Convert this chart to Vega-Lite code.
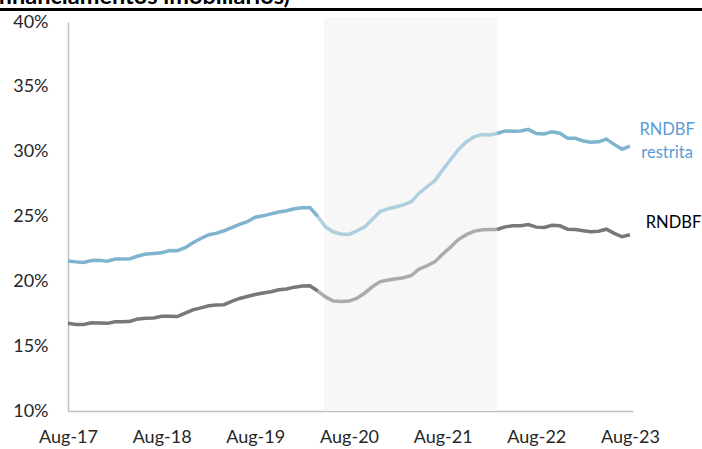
{
  "$schema": "https://vega.github.io/schema/vega-lite/v6.json",
  "width": 565,
  "height": 389,
  "autosize": {"type": "none"},
  "padding": {"left": 68, "top": 22, "right": 69, "bottom": 38},
  "background": "#ffffff",
  "title": {
    "text": "financiamentos imobiliários)",
    "anchor": "start",
    "frame": "group",
    "dx": -70,
    "dy": 5,
    "offset": 4,
    "font": "Lato",
    "fontSize": 23.5,
    "fontWeight": "bold",
    "color": "#000000"
  },
  "datasets": {
    "periodo": [{"periodo": "pandemia"}],
    "rotulo_restrita": [{"rotulo": "RNDBF restrita"}],
    "rotulo_total": [{"rotulo": "RNDBF"}]
  },
  "data": {
    "format": {"parse": {"mes": "date:'%Y-%m'"}},
    "values": [
      {"mes": "2017-08", "RNDBF restrita": 0.2157, "RNDBF": 0.1676},
      {"mes": "2017-09", "RNDBF restrita": 0.2150, "RNDBF": 0.1668},
      {"mes": "2017-10", "RNDBF restrita": 0.2145, "RNDBF": 0.1668},
      {"mes": "2017-11", "RNDBF restrita": 0.2160, "RNDBF": 0.1680},
      {"mes": "2017-12", "RNDBF restrita": 0.2162, "RNDBF": 0.1678},
      {"mes": "2018-01", "RNDBF restrita": 0.2155, "RNDBF": 0.1676},
      {"mes": "2018-02", "RNDBF restrita": 0.2172, "RNDBF": 0.1688},
      {"mes": "2018-03", "RNDBF restrita": 0.2172, "RNDBF": 0.1689},
      {"mes": "2018-04", "RNDBF restrita": 0.2175, "RNDBF": 0.1692},
      {"mes": "2018-05", "RNDBF restrita": 0.2195, "RNDBF": 0.1710},
      {"mes": "2018-06", "RNDBF restrita": 0.2210, "RNDBF": 0.1715},
      {"mes": "2018-07", "RNDBF restrita": 0.2215, "RNDBF": 0.1718},
      {"mes": "2018-08", "RNDBF restrita": 0.2220, "RNDBF": 0.1730},
      {"mes": "2018-09", "RNDBF restrita": 0.2238, "RNDBF": 0.1730},
      {"mes": "2018-10", "RNDBF restrita": 0.2236, "RNDBF": 0.1728},
      {"mes": "2018-11", "RNDBF restrita": 0.2260, "RNDBF": 0.1755},
      {"mes": "2018-12", "RNDBF restrita": 0.2298, "RNDBF": 0.1780},
      {"mes": "2019-01", "RNDBF restrita": 0.2330, "RNDBF": 0.1795},
      {"mes": "2019-02", "RNDBF restrita": 0.2360, "RNDBF": 0.1812},
      {"mes": "2019-03", "RNDBF restrita": 0.2370, "RNDBF": 0.1817},
      {"mes": "2019-04", "RNDBF restrita": 0.2390, "RNDBF": 0.1820},
      {"mes": "2019-05", "RNDBF restrita": 0.2415, "RNDBF": 0.1845},
      {"mes": "2019-06", "RNDBF restrita": 0.2440, "RNDBF": 0.1868},
      {"mes": "2019-07", "RNDBF restrita": 0.2460, "RNDBF": 0.1883},
      {"mes": "2019-08", "RNDBF restrita": 0.2495, "RNDBF": 0.1898},
      {"mes": "2019-09", "RNDBF restrita": 0.2505, "RNDBF": 0.1910},
      {"mes": "2019-10", "RNDBF restrita": 0.2520, "RNDBF": 0.1920},
      {"mes": "2019-11", "RNDBF restrita": 0.2535, "RNDBF": 0.1935},
      {"mes": "2019-12", "RNDBF restrita": 0.2545, "RNDBF": 0.1941},
      {"mes": "2020-01", "RNDBF restrita": 0.2560, "RNDBF": 0.1955},
      {"mes": "2020-02", "RNDBF restrita": 0.2568, "RNDBF": 0.1964},
      {"mes": "2020-03", "RNDBF restrita": 0.2570, "RNDBF": 0.1965},
      {"mes": "2020-04", "RNDBF restrita": 0.2500, "RNDBF": 0.1925},
      {"mes": "2020-05", "RNDBF restrita": 0.2420, "RNDBF": 0.1880},
      {"mes": "2020-06", "RNDBF restrita": 0.2380, "RNDBF": 0.1848},
      {"mes": "2020-07", "RNDBF restrita": 0.2365, "RNDBF": 0.1845},
      {"mes": "2020-08", "RNDBF restrita": 0.2362, "RNDBF": 0.1848},
      {"mes": "2020-09", "RNDBF restrita": 0.2390, "RNDBF": 0.1870},
      {"mes": "2020-10", "RNDBF restrita": 0.2420, "RNDBF": 0.1910},
      {"mes": "2020-11", "RNDBF restrita": 0.2480, "RNDBF": 0.1960},
      {"mes": "2020-12", "RNDBF restrita": 0.2540, "RNDBF": 0.1998},
      {"mes": "2021-01", "RNDBF restrita": 0.2560, "RNDBF": 0.2010},
      {"mes": "2021-02", "RNDBF restrita": 0.2575, "RNDBF": 0.2020},
      {"mes": "2021-03", "RNDBF restrita": 0.2590, "RNDBF": 0.2028},
      {"mes": "2021-04", "RNDBF restrita": 0.2615, "RNDBF": 0.2045},
      {"mes": "2021-05", "RNDBF restrita": 0.2680, "RNDBF": 0.2095},
      {"mes": "2021-06", "RNDBF restrita": 0.2730, "RNDBF": 0.2120},
      {"mes": "2021-07", "RNDBF restrita": 0.2775, "RNDBF": 0.2150},
      {"mes": "2021-08", "RNDBF restrita": 0.2860, "RNDBF": 0.2210},
      {"mes": "2021-09", "RNDBF restrita": 0.2940, "RNDBF": 0.2265},
      {"mes": "2021-10", "RNDBF restrita": 0.3015, "RNDBF": 0.2322},
      {"mes": "2021-11", "RNDBF restrita": 0.3075, "RNDBF": 0.2360},
      {"mes": "2021-12", "RNDBF restrita": 0.3115, "RNDBF": 0.2385},
      {"mes": "2022-01", "RNDBF restrita": 0.3132, "RNDBF": 0.2398},
      {"mes": "2022-02", "RNDBF restrita": 0.3128, "RNDBF": 0.2400},
      {"mes": "2022-03", "RNDBF restrita": 0.3140, "RNDBF": 0.2400},
      {"mes": "2022-04", "RNDBF restrita": 0.3160, "RNDBF": 0.2420},
      {"mes": "2022-05", "RNDBF restrita": 0.3158, "RNDBF": 0.2428},
      {"mes": "2022-06", "RNDBF restrita": 0.3160, "RNDBF": 0.2429},
      {"mes": "2022-07", "RNDBF restrita": 0.3172, "RNDBF": 0.2438},
      {"mes": "2022-08", "RNDBF restrita": 0.3140, "RNDBF": 0.2418},
      {"mes": "2022-09", "RNDBF restrita": 0.3136, "RNDBF": 0.2416},
      {"mes": "2022-10", "RNDBF restrita": 0.3154, "RNDBF": 0.2432},
      {"mes": "2022-11", "RNDBF restrita": 0.3142, "RNDBF": 0.2428},
      {"mes": "2022-12", "RNDBF restrita": 0.3103, "RNDBF": 0.2402},
      {"mes": "2023-01", "RNDBF restrita": 0.3103, "RNDBF": 0.2400},
      {"mes": "2023-02", "RNDBF restrita": 0.3082, "RNDBF": 0.2390},
      {"mes": "2023-03", "RNDBF restrita": 0.3072, "RNDBF": 0.2382},
      {"mes": "2023-04", "RNDBF restrita": 0.3076, "RNDBF": 0.2386},
      {"mes": "2023-05", "RNDBF restrita": 0.3097, "RNDBF": 0.2402},
      {"mes": "2023-06", "RNDBF restrita": 0.3056, "RNDBF": 0.2370},
      {"mes": "2023-07", "RNDBF restrita": 0.3018, "RNDBF": 0.2344},
      {"mes": "2023-08", "RNDBF restrita": 0.3043, "RNDBF": 0.2359}
    ]
  },
  "layer": [
    {
      "data": {"name": "periodo"},
      "mark": {"type": "rect", "color": "#f7f7f7"},
      "encoding": {
        "x": {"datum": {"year": 2020, "month": 4, "date": 25}, "type": "temporal"},
        "x2": {"datum": {"year": 2022, "month": 2, "date": 28}},
        "y": {"datum": 0.1, "type": "quantitative"},
        "y2": {"datum": 0.4035}
      }
    },
    {
      "transform": [
        {"fold": ["RNDBF restrita", "RNDBF"], "as": ["serie", "valor"]},
        {"filter": {"field": "mes", "lte": {"year": 2020, "month": 4, "date": 1}}}
      ],
      "mark": {"type": "line", "strokeWidth": 3.5},
      "encoding": {
        "x": {
          "field": "mes",
          "type": "temporal",
          "title": null,
          "scale": {"domain": [{"year": 2017, "month": 8, "date": 1}, {"year": 2023, "month": 8, "date": 13}]},
          "axis": {
            "values": [
              {"year": 2017, "month": 8, "date": 1},
              {"year": 2018, "month": 8, "date": 1},
              {"year": 2019, "month": 8, "date": 1},
              {"year": 2020, "month": 8, "date": 1},
              {"year": 2021, "month": 8, "date": 1},
              {"year": 2022, "month": 8, "date": 1},
              {"year": 2023, "month": 8, "date": 1}
            ],
            "format": "%b-%y",
            "labelPadding": 17,
            "labelFlush": false,
            "labelOverlap": false
          }
        },
        "y": {
          "field": "valor",
          "type": "quantitative",
          "title": null,
          "scale": {"domain": [0.1, 0.4], "nice": false, "zero": false},
          "axis": {
            "values": [0.1, 0.15, 0.2, 0.25, 0.3, 0.35, 0.4],
            "format": ".0%",
            "labelPadding": 20
          }
        },
        "color": {"field": "serie", "type": "nominal", "legend": null,
          "scale": {"domain": ["RNDBF restrita", "RNDBF"], "range": ["#7fb4ce", "#787878"]}}
      }
    },
    {
      "transform": [
        {"fold": ["RNDBF restrita", "RNDBF"], "as": ["serie", "valor"]},
        {"filter": {"field": "mes", "range": [{"year": 2020, "month": 4, "date": 1}, {"year": 2022, "month": 3, "date": 1}]}}
      ],
      "mark": {"type": "line", "strokeWidth": 3.5, "opacity": 0.6},
      "encoding": {
        "x": {"field": "mes", "type": "temporal"},
        "y": {"field": "valor", "type": "quantitative"},
        "color": {"field": "serie", "type": "nominal", "legend": null}
      }
    },
    {
      "transform": [
        {"fold": ["RNDBF restrita", "RNDBF"], "as": ["serie", "valor"]},
        {"filter": {"field": "mes", "gte": {"year": 2022, "month": 3, "date": 1}}}
      ],
      "mark": {"type": "line", "strokeWidth": 3.5},
      "encoding": {
        "x": {"field": "mes", "type": "temporal"},
        "y": {"field": "valor", "type": "quantitative"},
        "color": {"field": "serie", "type": "nominal", "legend": null}
      }
    },
    {
      "data": {"name": "periodo"},
      "mark": {"type": "rule", "color": "#000000", "strokeWidth": 3},
      "encoding": {
        "x": {"datum": {"year": 2016, "month": 1, "date": 1}, "type": "temporal"},
        "x2": {"datum": {"year": 2025, "month": 6, "date": 1}},
        "y": {"datum": 0.4097, "type": "quantitative"}
      }
    },
    {
      "data": {"name": "rotulo_restrita"},
      "mark": {"type": "text", "text": ["RNDBF", "restrita"], "align": "center", "baseline": "alphabetic",
        "lineHeight": 23, "font": "Lato", "fontSize": 16.5, "color": "#5b9bd5"},
      "encoding": {
        "x": {"datum": {"year": 2023, "month": 12, "date": 24}, "type": "temporal"},
        "y": {"datum": 0.3131, "type": "quantitative"}
      }
    },
    {
      "data": {"name": "rotulo_total"},
      "mark": {"type": "text", "align": "center", "baseline": "alphabetic",
        "font": "Lato", "fontSize": 16.5, "color": "#000000"},
      "encoding": {
        "text": {"field": "rotulo"},
        "x": {"datum": {"year": 2024, "month": 1, "date": 18}, "type": "temporal"},
        "y": {"datum": 0.2413, "type": "quantitative"}
      }
    }
  ],
  "config": {
    "view": {"stroke": null},
    "axis": {
      "grid": false,
      "ticks": false,
      "domainColor": "#bfbfbf",
      "domainWidth": 1.5,
      "labelFont": "Lato",
      "labelFontSize": 18,
      "labelColor": "#262626"
    }
  }
}
